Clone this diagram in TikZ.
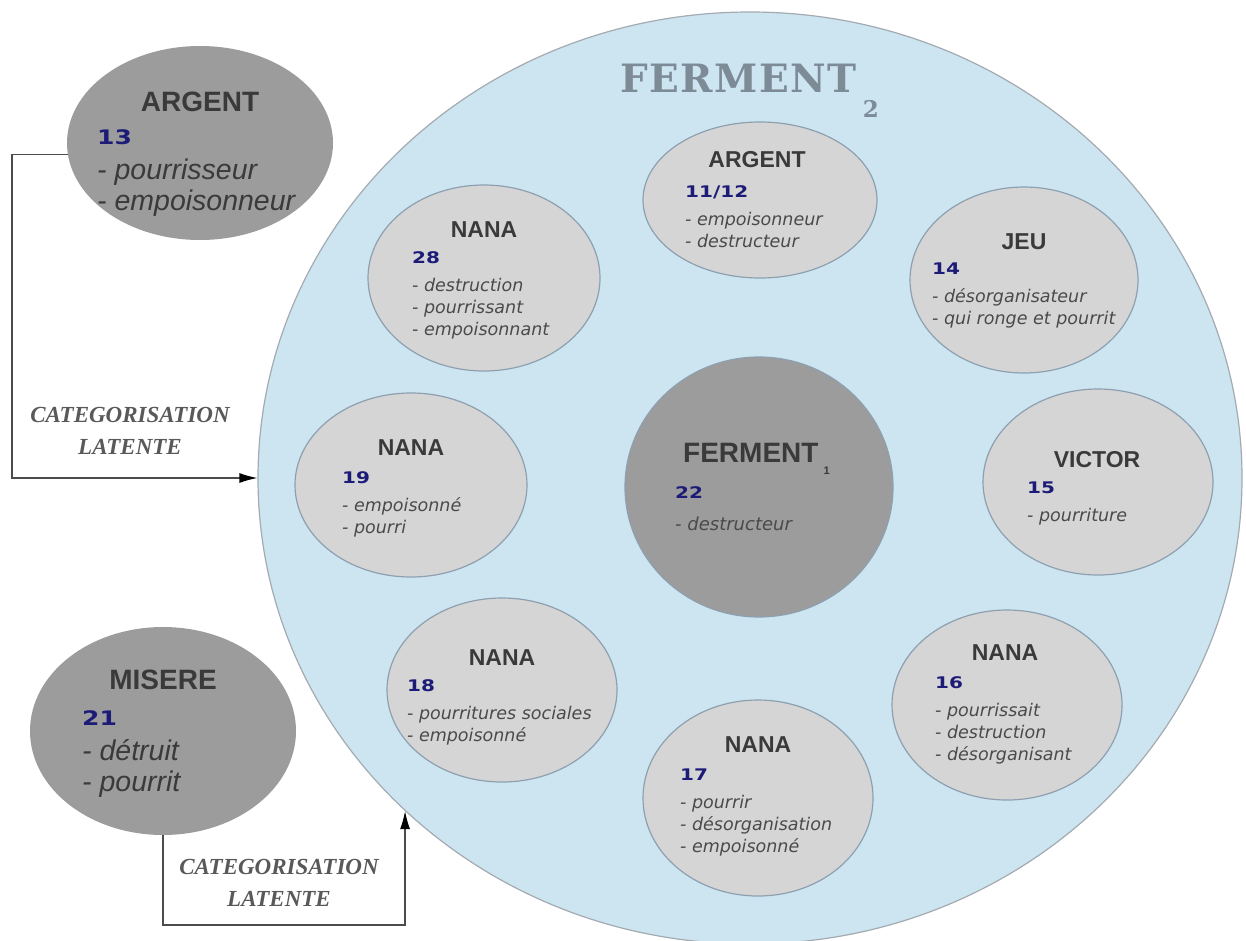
\documentclass[tikz,border=0pt]{standalone}
\usepackage{fontspec}
\setmainfont{Liberation Sans}
\newfontfamily\titlefont[LetterSpace=4]{DejaVu Serif}
\newfontfamily\labelfont{Liberation Serif}
\newfontfamily\itemfont{DejaVu Sans}
\newfontfamily\numfont[FakeStretch=1.25]{DejaVu Sans}
\usetikzlibrary{shapes,arrows.meta}

\definecolor{ciel}{HTML}{CDE4F1}
\definecolor{contour}{HTML}{A3ABB1}
\definecolor{bord}{HTML}{8EA0AF}
\definecolor{gris}{HTML}{D5D5D5}
\definecolor{grisfonce}{HTML}{9C9C9C}
\definecolor{encre}{HTML}{3A3A3A}
\definecolor{texte}{HTML}{4A4A4A}
\definecolor{marine}{HTML}{1C1C78}
\definecolor{titre}{HTML}{7D8B96}

\tikzstyle{ferment} = [ellipse, draw=contour, line width=1.2pt, fill=ciel, inner sep=0pt]
\tikzstyle{bulle} = [ellipse, draw=bord, line width=1.2pt, fill=gris, inner sep=0pt]
\tikzstyle{noyau} = [ellipse, draw=bord, line width=1.2pt, fill=grisfonce, inner sep=0pt]
\tikzstyle{dehors} = [ellipse, fill=grisfonce, inner sep=0pt]
\tikzstyle{tete} = [inner sep=0pt, text=encre, font=\fontsize{23}{26}\selectfont\bfseries]
\tikzstyle{liste} = [inner sep=0pt, anchor=base west, text=texte,
    font=\itemfont\fontsize{17.5}{22}\selectfont\itshape]
\tikzstyle{grandetete} = [inner sep=0pt, text=encre, font=\fontsize{28}{30}\selectfont\bfseries]
\tikzstyle{grandeliste} = [inner sep=0pt, anchor=base west, text=encre,
    font=\fontsize{28.5}{31}\selectfont\itshape]
\tikzstyle{categ} = [align=center, inner sep=0pt, text=black!65,
    font=\labelfont\fontsize{23}{32}\selectfont\bfseries\itshape]
\tikzstyle{fleche} = [draw=black!70, line width=1.2pt,
    -{Latex[length=18pt,width=10pt,color=black]}]

\newcommand{\nb}[2][16]{{\numfont\bfseries\upshape\fontsize{#1}{#1}\selectfont\color{marine}#2}}

\begin{document}
\begin{tikzpicture}[x=1pt,y=-1pt]
  \useasboundingbox (0,0) rectangle (1246,940);

  % grand ferment
  \node[ferment, minimum width=984, minimum height=932] (f2) at (750,478) {};
  \node[anchor=base west, inner sep=0pt, text=titre, font=\titlefont\bfseries\fontsize{39}{39}\selectfont]
    (f2t) at (620,92) {FERMENT\hspace{6pt}\raisebox{-25pt}{\fontsize{23}{23}\selectfont 2}};

  % bulles exterieures
  \node[dehors, minimum width=266, minimum height=194] (arg) at (200,143) {};
  \node[grandetete] (argt) at (200,102) {ARGENT};
  \node[grandeliste] (argl) at (97,144.3) {\begin{tabular}[t]{@{}l@{}}\nb[20]{13}\\[4pt]
    - pourrisseur\\ - empoisonneur\end{tabular}};

  \node[dehors, minimum width=266, minimum height=208] (mis) at (163,731) {};
  \node[grandetete] (mist) at (163,680) {MISERE};
  \node[grandeliste] (misl) at (82,725.3) {\begin{tabular}[t]{@{}l@{}}\nb[20]{21}\\[4pt]
    - détruit\\ - pourrit\end{tabular}};

  % noyau
  \node[noyau, minimum width=268, minimum height=260] (f1) at (759,487) {};
  \node[anchor=base west, inner sep=0pt, text=encre, font=\fontsize{28}{30}\selectfont\bfseries]
    (f1t) at (683,462) {FERMENT\hspace{5pt}\raisebox{-12pt}{\fontsize{11}{11}\selectfont 1}};
  \node[liste, font=\itemfont\fontsize{18}{26}\selectfont\itshape] (f1l) at (675,498.5)
    {\begin{tabular}[t]{@{}l@{}}\nb{22}\\[6pt] - destructeur\end{tabular}};

  % bulles interieures
  \node[bulle, minimum width=234, minimum height=156] (a11) at (760,200) {};
  \node[tete] (a11t) at (757,160) {ARGENT};
  \node[liste] (a11l) at (685,197.5) {\begin{tabular}[t]{@{}l@{}}\nb{11/12}\\[6pt]
    - empoisonneur\\ - destructeur\end{tabular}};

  \node[bulle, minimum width=232, minimum height=186] (n28) at (484,278) {};
  \node[tete] (n28t) at (484,230) {NANA};
  \node[liste] (n28l) at (412,263.5) {\begin{tabular}[t]{@{}l@{}}\nb{28}\\[6pt]
    - destruction\\ - pourrissant\\ - empoisonnant\end{tabular}};

  \node[bulle, minimum width=228, minimum height=186] (jeu) at (1024,280) {};
  \node[tete] (jeut) at (1024,242) {JEU};
  \node[liste] (jeul) at (932,274.5) {\begin{tabular}[t]{@{}l@{}}\nb{14}\\[6pt]
    - désorganisateur\\ - qui ronge et pourrit\end{tabular}};

  \node[bulle, minimum width=232, minimum height=184] (n19) at (411,485) {};
  \node[tete] (n19t) at (411,448) {NANA};
  \node[liste] (n19l) at (342,483.5) {\begin{tabular}[t]{@{}l@{}}\nb{19}\\[6pt]
    - empoisonné\\ - pourri\end{tabular}};

  \node[bulle, minimum width=230, minimum height=186] (vic) at (1098,482) {};
  \node[tete] (vict) at (1097,460) {VICTOR};
  \node[liste] (vicl) at (1027,493.5) {\begin{tabular}[t]{@{}l@{}}\nb{15}\\[6pt]
    - pourriture\end{tabular}};

  \node[bulle, minimum width=230, minimum height=184] (n18) at (502,690) {};
  \node[tete] (n18t) at (502,658) {NANA};
  \node[liste] (n18l) at (407,691.5) {\begin{tabular}[t]{@{}l@{}}\nb{18}\\[6pt]
    - pourritures sociales\\ - empoisonné\end{tabular}};

  \node[bulle, minimum width=230, minimum height=196] (n17) at (758,798) {};
  \node[tete] (n17t) at (758,745) {NANA};
  \node[liste] (n17l) at (680,780.5) {\begin{tabular}[t]{@{}l@{}}\nb{17}\\[6pt]
    - pourrir\\ - désorganisation\\ - empoisonné\end{tabular}};

  \node[bulle, minimum width=230, minimum height=190] (n16) at (1007,705) {};
  \node[tete] (n16t) at (1005,653) {NANA};
  \node[liste] (n16l) at (935,688.5) {\begin{tabular}[t]{@{}l@{}}\nb{16}\\[6pt]
    - pourrissait\\ - destruction\\ - désorganisant\end{tabular}};

  % categorisations
  \coordinate (c1) at (12,300);
  \coordinate (c2) at (403,925);
  \draw[fleche] (arg.185) -| (c1) |- (f2.west);
  \draw[fleche] (mis.south) |- (c2) -| (f2.224);
  \node[categ] (cat1) at (130,431) {CATEGORISATION\\LATENTE};
  \node[categ] (cat2) at (279,883) {CATEGORISATION\\LATENTE};
\end{tikzpicture}
\end{document}
